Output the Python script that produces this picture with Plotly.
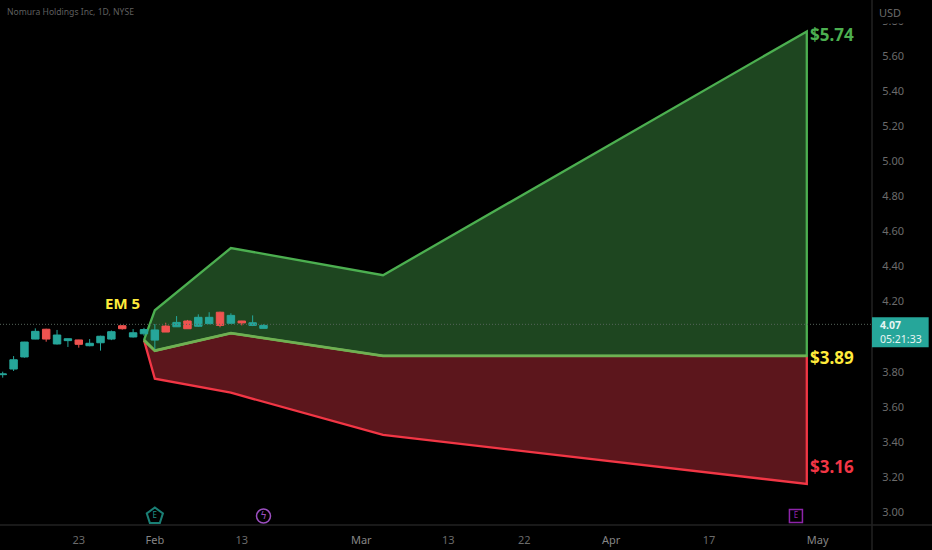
import plotly.graph_objects as go

# candles
dates = ['2023-01-11', '2023-01-12', '2023-01-13', '2023-01-17', '2023-01-18', '2023-01-19', '2023-01-20',
         '2023-01-23', '2023-01-24', '2023-01-25', '2023-01-26', '2023-01-27', '2023-01-30', '2023-01-31',
         '2023-02-01', '2023-02-02', '2023-02-03', '2023-02-06', '2023-02-07', '2023-02-08', '2023-02-09',
         '2023-02-10', '2023-02-13', '2023-02-14', '2023-02-15']
opens = [3.783, 3.815, 3.884, 3.986, 4.042, 3.958, 3.977, 3.981, 3.948, 3.965, 3.986, 4.062, 3.998, 4.016,
         3.980, 4.060, 4.056, 4.089, 4.059, 4.074, 4.139, 4.076, 4.089, 4.064, 4.047]
highs = [3.800, 3.889, 3.970, 4.047, 4.045, 4.038, 3.989, 3.982, 3.986, 4.005, 4.035, 4.066, 4.043, 4.050,
         4.072, 4.079, 4.117, 4.095, 4.127, 4.139, 4.142, 4.133, 4.090, 4.121, 4.070]
lows = [3.766, 3.804, 3.880, 3.985, 3.971, 3.955, 3.941, 3.937, 3.945, 3.920, 3.980, 4.040, 3.995, 4.005,
        3.928, 4.026, 4.055, 4.044, 4.055, 4.070, 4.053, 4.074, 4.064, 4.060, 4.047]
closes = [3.787, 3.868, 3.969, 4.030, 3.986, 4.009, 3.988, 3.956, 3.962, 4.002, 4.028, 4.045, 4.022, 4.040,
          4.038, 4.026, 4.081, 4.045, 4.110, 4.110, 4.064, 4.121, 4.078, 4.079, 4.064]

# expected move cone
em_dates = ['2023-01-31', '2023-02-01', '2023-02-10', '2023-03-03', '2023-04-28']
em_upper = [3.98, 4.15, 4.505, 4.35, 5.74]
em_mid = [3.98, 3.92, 4.02, 3.89, 3.89]
em_lower = [3.98, 3.76, 3.68, 3.44, 3.16]

last_price = 4.07
y_ticks = [3.0, 3.2, 3.4, 3.6, 3.8, 4.0, 4.2, 4.4, 4.6, 4.8, 5.0, 5.2, 5.4, 5.6, 5.8]
x_tick_dates = ['2023-01-23', '2023-02-01', '2023-02-13', '2023-03-01', '2023-03-13', '2023-03-22',
                '2023-04-03', '2023-04-17', '2023-05-01']
x_tick_text = ['23', 'Feb', '13', 'Mar', '13', '22', 'Apr', '17', 'May']

earnings_dates = ['2023-02-01']
dividend_dates = ['2023-02-15']
next_earnings_dates = ['2023-04-27']
event_y = 2.977

GREEN = '#4caf50'
RED = '#f23645'
YELLOW = '#ffeb3b'
TEAL = '#26a69a'
AXIS_LINE = '#222222'
FONT = 'Noto Sans'
Y_RANGE = [2.926, 5.919]

# month names are a bit brighter than the day numbers
x_tick_labels = [f'<span style="color:#858585">{t}</span>' if t.isalpha() else t for t in x_tick_text]

fig = go.Figure()

fig.add_trace(go.Scatter(x=em_dates + em_dates[::-1], y=em_mid + em_lower[::-1], mode='lines',
                         fill='toself', fillcolor='#5c161c', line=dict(color=RED, width=2.3)))
fig.add_trace(go.Scatter(x=em_dates + em_dates[::-1], y=em_upper + em_mid[::-1], mode='lines',
                         fill='toself', fillcolor='#1e4620', line=dict(color=GREEN, width=2.3)))
fig.add_trace(go.Scatter(x=em_dates, y=em_mid, mode='lines', line=dict(color='#6fb052', width=2.8)))

# candles go on an overlaid y axis, otherwise they end up under the filled areas
fig.add_trace(go.Candlestick(x=dates, open=opens, high=highs, low=lows, close=closes, whiskerwidth=0, yaxis='y2',
                             increasing=dict(line=dict(color=TEAL, width=1), fillcolor=TEAL),
                             decreasing=dict(line=dict(color='#ef5350', width=1), fillcolor='#ef5350')))

# event markers along the time scale
fig.add_trace(go.Scatter(x=earnings_dates, y=[event_y], mode='markers+text', text=['E'],
                         textposition='middle center', textfont=dict(color='#1f8f84', size=8, family=FONT),
                         marker=dict(symbol='pentagon-open', size=17, color='#1a7f75', line=dict(width=2))))
fig.add_trace(go.Scatter(x=dividend_dates, y=[event_y], mode='markers+text', text=['ϟ'],
                         textposition='middle center', textfont=dict(color='#9c4fc0', size=10, family='DejaVu Sans'),
                         marker=dict(symbol='circle-open', size=14, color='#9c4fc0', line=dict(width=1.5))))
fig.add_trace(go.Scatter(x=next_earnings_dates, y=[event_y], mode='markers+text', text=['E'],
                         textposition='middle center', textfont=dict(color='#8e24aa', size=8, family=FONT),
                         marker=dict(symbol='square-open', size=13, color='#8e24aa', line=dict(width=1.5))))

# last price line
fig.add_hline(y=last_price, line=dict(color='#55635a', width=1, dash='1px,2px'))

# frame lines, outside of the plot too
fig.add_shape(type='line', xref='paper', yref='paper', x0=0, x1=1.07, y0=0, y1=0,
              line=dict(color=AXIS_LINE, width=1.5))
fig.add_shape(type='line', xref='paper', yref='paper', x0=1, x1=1, y0=-0.05, y1=1,
              line=dict(color=AXIS_LINE, width=1.5))

# price box on the axis
fig.add_shape(type='rect', xref='paper', yref='y', x0=1, x1=1.065, ysizemode='pixel', yanchor=last_price,
              y0=7, y1=-23, fillcolor=TEAL, line=dict(width=0))

fig.add_annotation(text='Nomura Holdings Inc, 1D, NYSE', xref='paper', yref='paper', x=0, y=1, xshift=5, yshift=-4,
                   xanchor='left', yanchor='top', showarrow=False, font=dict(family=FONT, size=8.6, color='#5f5f5f'))
fig.add_annotation(text='USD', xref='paper', yref='paper', x=1, y=1, xanchor='left', yanchor='top', xshift=5,
                   width=54, height=20, align='left', showarrow=False, bgcolor='#000000',
                   font=dict(family=FONT, size=11, color='#6b6b6b'))
fig.add_annotation(text='EM 5', x='2023-01-27', y=4.19, showarrow=False, xanchor='center',
                   font=dict(family=FONT, size=15, color=YELLOW, weight='bold'))

fig.add_annotation(text='$5.74', x=em_dates[-1], y=em_upper[-1], xanchor='left', xshift=1, yshift=-3, showarrow=False,
                   font=dict(family=FONT, size=17, color=GREEN, weight='bold'))
fig.add_annotation(text='$3.89', x=em_dates[-1], y=em_mid[-1], xanchor='left', xshift=1, yshift=-2, showarrow=False,
                   font=dict(family=FONT, size=17, color=YELLOW, weight='bold'))
fig.add_annotation(text='$3.16', x=em_dates[-1], y=em_lower[-1], xanchor='left', xshift=1, yshift=17, showarrow=False,
                   font=dict(family=FONT, size=17, color=RED, weight='bold'))

fig.add_annotation(text='<b>4.07</b><br>05:21:33', xref='paper', yref='y', x=1, y=last_price, xanchor='left',
                   yanchor='top', yshift=8, xshift=6, align='left', showarrow=False,
                   font=dict(family=FONT, size=10.5, color='#e8f5f3'))

fig.update_xaxes(type='date', range=['2023-01-10 18:00', '2023-05-08'],
                 rangebreaks=[dict(bounds=['sat', 'mon']), dict(values=['2023-01-16', '2023-02-20', '2023-04-07'])],
                 tickmode='array', tickvals=x_tick_dates, ticktext=x_tick_labels, showgrid=False, zeroline=False,
                 ticks='outside', ticklen=5, tickcolor='rgba(0,0,0,0)', rangeslider=dict(visible=False),
                 tickfont=dict(family=FONT, size=11, color='#6b6b6b'))
fig.update_yaxes(side='right', range=Y_RANGE, tickmode='array', tickvals=y_ticks, tickformat='.2f',
                 showgrid=False, zeroline=False, ticks='outside', ticklen=7, tickcolor='rgba(0,0,0,0)',
                 tickfont=dict(family=FONT, size=11, color='#6b6b6b'))
fig.update_layout(width=932, height=550, margin=dict(l=0, r=60, t=0, b=25), paper_bgcolor='#000000',
                  plot_bgcolor='#000000', showlegend=False, hovermode=False, boxgap=0.02,
                  yaxis2=dict(overlaying='y', side='right', range=Y_RANGE, visible=False))

fig.write_html("out.html", config=dict(displayModeBar=False),
               post_script="document.body.style.margin='0';document.body.style.background='#000';")
